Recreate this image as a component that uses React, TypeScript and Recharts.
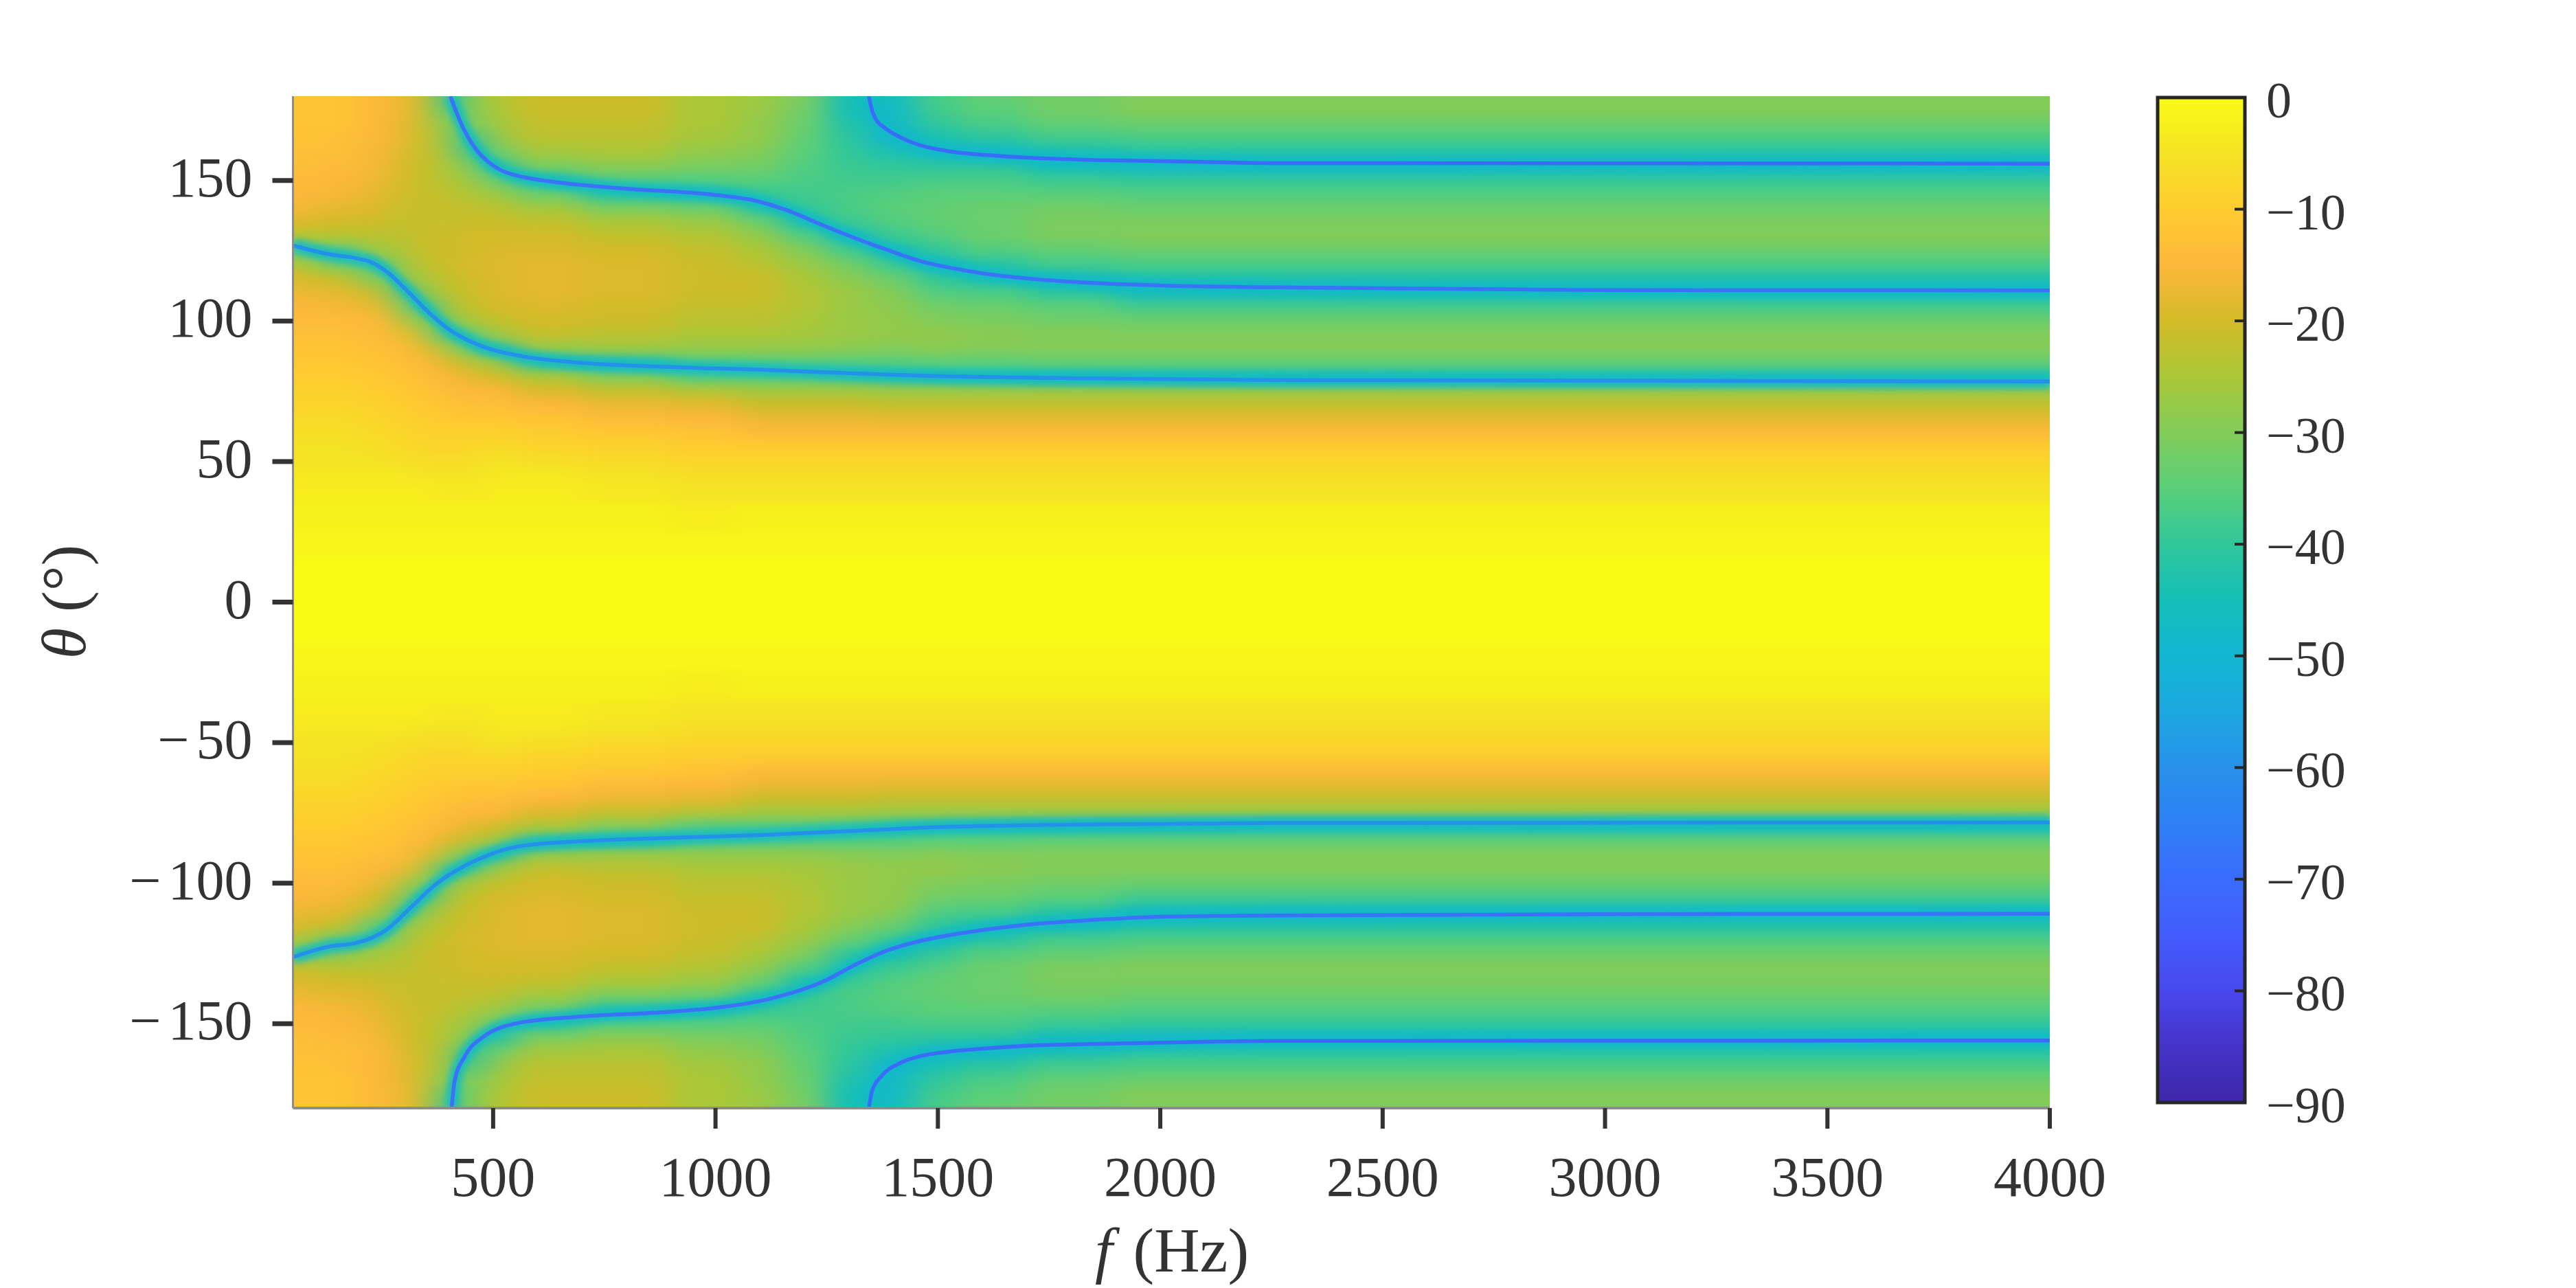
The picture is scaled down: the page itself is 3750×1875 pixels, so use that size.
import React from 'react';
import { LineChart, Line, XAxis, YAxis, ReferenceArea } from 'recharts';

// ---- field: level in dB, one list per frequency, rows follow thetaRows
const thetaRows = [
  180, 175, 170, 165, 160, 155, 150, 145, 140, 135, 130, 125, 120, 115, 110, 105, 100, 95, 90, 85, 80, 75, 70, 65, 60, 55, 50, 45, 40, 30, 20, 10, 0,
  -10, -20, -30, -40, -45, -50, -55, -60, -65, -70, -75, -80, -85, -90, -95, -100, -105, -110, -115, -120, -125, -130, -135, -140, -145, -150, -155, -160, -165, -170, -175, -180,
];
const freqColumns = [50, 150, 250, 300, 350, 400, 450, 500, 600, 800, 1000, 1100, 1200, 1300, 1400, 1500, 1600, 1800, 2000, 4000];

const db50 = [-12,-12,-12,-12,-13,-13,-14,-15,-16,-19,-24,-34,-24,-19,-17,-15,-14,-13,-12,-11,-10,-9,-8,-7,-6,-5,-5,-4,-3,-2,-1,0,0,
  0,-1,-2,-3,-4,-5,-5,-6,-7,-8,-9,-10,-11,-12,-13,-14,-15,-17,-19,-24,-34,-22,-19,-17,-15,-14,-13,-13,-12,-12,-12,-12];
const db150 = [-12,-12,-12,-13,-13,-14,-15,-16,-18,-20,-24,-34,-32,-22,-18,-16,-14,-13,-12,-11,-10,-9,-8,-7,-6,-5,-5,-4,-3,-2,-1,0,0,
  0,-1,-2,-3,-4,-5,-5,-6,-7,-8,-9,-10,-11,-12,-13,-14,-16,-18,-22,-32,-30,-24,-20,-18,-16,-15,-14,-13,-13,-12,-12,-12];
const db250 = [-15,-15,-15,-15,-16,-16,-17,-18,-19,-21,-23,-27,-36,-32,-22,-18,-15,-14,-13,-12,-11,-10,-9,-8,-7,-6,-5,-4,-3,-2,-1,0,0,
  0,-1,-2,-3,-4,-5,-6,-7,-8,-9,-10,-11,-12,-13,-15,-17,-20,-24,-36,-34,-26,-23,-21,-19,-18,-17,-16,-15,-15,-15,-15,-15];
const db300 = [-17,-17,-18,-18,-19,-20,-20,-21,-22,-22,-23,-24,-26,-30,-40,-30,-24,-17,-14,-13,-12,-11,-10,-9,-8,-7,-6,-4,-3,-2,-1,0,0,
  0,-1,-2,-3,-4,-6,-7,-8,-9,-10,-11,-12,-13,-14,-17,-24,-30,-40,-30,-26,-24,-23,-22,-22,-21,-20,-20,-19,-18,-18,-17,-17];
const db350 = [-22,-22,-22,-22,-22,-22,-22,-21,-21,-21,-21,-21,-22,-24,-28,-42,-32,-24,-18,-15,-14,-12,-11,-10,-9,-8,-6,-5,-3,-2,-1,0,0,
  0,-1,-2,-3,-5,-6,-8,-9,-10,-11,-12,-14,-15,-18,-24,-32,-42,-28,-24,-22,-21,-21,-21,-21,-21,-22,-22,-22,-22,-22,-22,-22];
const db400 = [-42,-38,-31,-28,-26,-25,-24,-23,-22,-22,-21,-21,-21,-22,-23,-25,-32,-40,-26,-19,-15,-14,-12,-11,-9,-8,-7,-5,-4,-2,-1,0,0,
  0,-1,-2,-4,-5,-7,-8,-9,-11,-12,-14,-15,-19,-26,-40,-32,-25,-23,-22,-21,-21,-21,-22,-22,-23,-24,-25,-26,-28,-31,-38,-42];
const db450 = [-30,-31,-33,-42,-42,-31,-27,-24,-22,-21,-20,-20,-19,-20,-21,-22,-25,-35,-35,-23,-18,-15,-13,-11,-9,-8,-6,-5,-4,-2,-1,0,0,
  0,-1,-2,-4,-5,-6,-8,-9,-11,-13,-15,-18,-23,-33,-38,-25,-22,-21,-20,-19,-20,-20,-21,-22,-24,-27,-31,-42,-40,-33,-31,-30];
const db500 = [-24,-25,-26,-28,-33,-42,-34,-27,-23,-21,-20,-19,-19,-19,-19,-20,-22,-27,-40,-27,-20,-15,-13,-11,-9,-7,-5,-4,-3,-2,-1,0,0,
  0,-1,-2,-3,-4,-5,-7,-9,-11,-13,-15,-20,-27,-42,-27,-22,-20,-19,-19,-19,-19,-20,-21,-23,-27,-34,-44,-33,-28,-26,-25,-24];
const db600 = [-21,-21,-22,-23,-26,-31,-42,-33,-26,-22,-20,-19,-18,-18,-18,-19,-20,-22,-28,-40,-25,-19,-15,-12,-10,-8,-6,-4,-3,-2,-1,0,0,
  0,-1,-2,-3,-4,-6,-8,-10,-12,-15,-19,-25,-40,-28,-22,-20,-19,-18,-18,-18,-19,-20,-22,-26,-33,-42,-31,-26,-23,-22,-21,-21];
const db800 = [-21,-21,-22,-23,-25,-29,-36,-42,-31,-25,-22,-20,-19,-19,-19,-20,-21,-23,-27,-42,-30,-22,-17,-14,-11,-9,-7,-5,-4,-2,-1,0,0,
  0,-1,-2,-4,-5,-7,-9,-11,-14,-17,-22,-30,-42,-27,-23,-21,-20,-19,-19,-19,-20,-22,-25,-31,-42,-36,-29,-25,-23,-22,-21,-21];
const db1000 = [-25,-25,-25,-26,-28,-31,-36,-44,-33,-27,-24,-22,-21,-21,-21,-22,-23,-25,-28,-36,-36,-24,-18,-15,-12,-10,-8,-6,-5,-3,-1,0,0,
  0,-1,-3,-5,-6,-8,-10,-12,-15,-18,-24,-36,-36,-28,-25,-23,-22,-21,-21,-21,-22,-24,-27,-33,-44,-36,-31,-28,-26,-25,-25,-25];
const db1100 = [-27,-27,-28,-28,-30,-32,-35,-40,-42,-33,-28,-25,-23,-21,-21,-22,-23,-25,-28,-36,-36,-26,-21,-17,-14,-10,-8,-6,-5,-2,-1,0,0,
  0,-1,-2,-5,-6,-8,-10,-14,-17,-21,-26,-36,-36,-28,-25,-23,-22,-21,-21,-23,-25,-28,-33,-42,-40,-35,-32,-30,-28,-28,-27,-27];
const db1200 = [-31,-32,-33,-34,-35,-36,-37,-38,-40,-44,-36,-30,-27,-25,-24,-24,-25,-26,-28,-36,-36,-26,-21,-17,-14,-10,-8,-6,-5,-2,-1,0,0,
  0,-1,-2,-5,-6,-8,-10,-14,-17,-21,-26,-36,-36,-28,-26,-25,-24,-24,-25,-27,-30,-36,-44,-40,-38,-37,-36,-35,-34,-33,-32,-31];
const db1300 = [-45,-45,-43,-41,-40,-39,-38,-37,-37,-39,-46,-38,-32,-29,-27,-27,-27,-27,-29,-36,-38,-26,-21,-17,-14,-10,-8,-6,-5,-2,-1,0,0,
  0,-1,-2,-5,-6,-8,-10,-14,-17,-21,-26,-38,-36,-29,-27,-27,-27,-27,-29,-33,-40,-44,-39,-37,-37,-38,-39,-40,-41,-43,-45,-45];
const db1400 = [-46,-48,-48,-50,-44,-40,-38,-36,-35,-36,-39,-46,-39,-33,-30,-29,-28,-28,-30,-36,-40,-27,-22,-18,-14,-10,-8,-6,-5,-2,-1,0,0,
  0,-1,-2,-5,-6,-8,-10,-14,-18,-22,-27,-40,-36,-30,-28,-28,-28,-29,-33,-39,-46,-39,-36,-35,-36,-38,-40,-44,-50,-48,-48,-46];
const db1500 = [-37,-38,-40,-44,-48,-41,-37,-35,-34,-34,-36,-40,-47,-40,-36,-32,-30,-28,-29,-35,-42,-27,-22,-18,-14,-10,-8,-6,-5,-2,-1,0,0,
  0,-1,-2,-5,-6,-8,-10,-14,-18,-22,-27,-42,-35,-29,-28,-30,-32,-36,-40,-47,-40,-36,-34,-34,-35,-37,-41,-48,-44,-40,-38,-37];
const db1600 = [-34,-35,-37,-41,-48,-41,-37,-35,-33,-33,-33,-36,-42,-44,-37,-33,-31,-29,-30,-35,-43,-27,-22,-18,-14,-10,-8,-6,-5,-2,-1,0,0,
  0,-1,-2,-5,-6,-8,-10,-14,-18,-22,-27,-43,-35,-30,-29,-31,-33,-37,-44,-42,-36,-33,-33,-33,-35,-37,-41,-48,-41,-37,-35,-34];
const db1800 = [-32,-32,-34,-38,-44,-46,-39,-35,-32,-31,-31,-34,-38,-46,-41,-35,-32,-30,-30,-34,-45,-27,-22,-18,-14,-10,-8,-6,-5,-2,-1,0,0,
  0,-1,-2,-5,-6,-8,-10,-14,-18,-22,-27,-45,-34,-30,-30,-32,-35,-41,-46,-38,-34,-31,-31,-32,-35,-39,-46,-44,-38,-34,-32,-32];
const db2000 = [-30,-30,-33,-37,-42,-48,-40,-36,-33,-31,-30,-33,-37,-43,-46,-38,-33,-30,-30,-34,-45,-27,-22,-18,-14,-10,-8,-6,-5,-2,-1,0,0,
  0,-1,-2,-5,-6,-8,-10,-14,-18,-22,-27,-45,-34,-30,-30,-33,-38,-46,-43,-37,-33,-30,-31,-33,-36,-40,-48,-42,-37,-33,-30,-30];
const db4000 = [-30,-30,-33,-37,-42,-48,-40,-36,-33,-31,-30,-33,-37,-43,-46,-38,-33,-30,-30,-34,-45,-27,-22,-18,-14,-10,-8,-6,-5,-2,-1,0,0,
  0,-1,-2,-5,-6,-8,-10,-14,-18,-22,-27,-45,-34,-30,-30,-33,-38,-46,-43,-37,-33,-30,-31,-33,-36,-40,-48,-42,-37,-33,-30,-30];

const fieldColumns = [db50, db150, db250, db300, db350, db400, db450, db500, db600, db800, db1000, db1100, db1200, db1300, db1400, db1500, db1600, db1800, db2000, db4000];

// ---- the nulls, traced by eye: frequency and angle lists
const nullA1F = [50, 130, 190, 228, 265, 302, 351, 401, 475, 561, 684, 869, 1115, 1322, 1459, 1828, 2250, 4000];
const nullA1T = [126.9, 123.8, 122.4, 120.8, 117, 111.5, 103.7, 97, 91, 87.6, 85.3, 83.8, 82.6, 81.3, 80.6, 79.6, 79, 78.5];
const nullB1F = [404, 426, 462, 490, 517, 560, 622, 807, 992, 1090, 1164, 1238, 1312, 1385, 1459, 1533, 1607, 1718, 1828, 2013, 2250, 3000, 4000];
const nullB1T = [180, 171, 161, 156.5, 153.7, 151.5, 149.8, 147, 145, 142.8, 139.2, 134.3, 129.6, 125.4, 121.4, 118.8, 116.8, 114.9, 113.7, 112.6, 112, 111, 110.9];
const nullC1F = [1345, 1350, 1360, 1380, 1400, 1430, 1459, 1533, 1607, 1718, 1828, 2050, 2250, 4000];
const nullC1T = [180, 176, 172, 168.8, 166.7, 164.3, 162.6, 160.2, 159.1, 158, 157.4, 156.8, 156.2, 156];
const nullA2F = [50, 130, 190, 228, 265, 302, 376, 475, 561, 684, 869, 1115, 1322, 1459, 1828, 2250, 4000];
const nullA2T = [-126.3, -122.6, -121.3, -119.4, -116, -110.6, -99.8, -90.9, -86.8, -85.2, -84, -82.8, -81.3, -80.3, -79.1, -78.6, -78.4];
const nullB2F = [407, 413, 438, 475, 561, 684, 869, 992, 1115, 1238, 1322, 1385, 1459, 1533, 1607, 1718, 1828, 2013, 2250, 3000, 4000];
const nullB2T = [-180, -170.7, -161.2, -155, -149.6, -147.6, -146, -144.5, -141.4, -135.3, -128.4, -124, -120.6, -118.3, -116.5, -114.5, -113.3, -111.9, -111.5, -111, -110.9];
const nullC2F = [1345, 1352, 1373, 1415, 1459, 1533, 1607, 1718, 1828, 2050, 2250, 4000];
const nullC2T = [-180, -173.9, -168.7, -164, -161.6, -159.8, -158.8, -157.7, -157.3, -156.6, -156.1, -156];

const zip = (fs: number[], ts: number[]) => fs.map((f, i) => ({ f, t: ts[i] }));
const nullLines = [
  { key: 'a1', data: zip(nullA1F, nullA1T), color: '#2490EA' },
  { key: 'b1', data: zip(nullB1F, nullB1T), color: '#3A72F8' },
  { key: 'c1', data: zip(nullC1F, nullC1T), color: '#3A6CFA' },
  { key: 'a2', data: zip(nullA2F, nullA2T), color: '#2490EA' },
  { key: 'b2', data: zip(nullB2F, nullB2T), color: '#3A72F8' },
  { key: 'c2', data: zip(nullC2F, nullC2T), color: '#3A6CFA' },
];

const xTicks = [500, 1000, 1500, 2000, 2500, 3000, 3500, 4000];
const yTicks = [150, 100, 50, 0, -50, -100, -150];
const cbarTicks = [0, -10, -20, -30, -40, -50, -60, -70, -80, -90];

// colour bar as it reads in the picture
const cmapDb = [0, -5, -10, -15, -20, -25, -30, -35, -40, -45, -50, -55, -60, -65, -70, -75, -80, -85, -90];
const cmapHex = ['#F9FB15', '#F5E324', '#FECC2F', '#FDB73C', '#D3BB27', '#ABC737', '#82CC59', '#5ACF79', '#30C79A', '#14BFB8', '#12B6D2', '#1CA8E0', '#2891EA', '#2E80F5', '#3A6CFD', '#425CFB', '#4848EE', '#4433C8', '#3E26A8'];

const W = 3750;
const H = 1875;
const plot = { left: 426.5, right: 2984, top: 140, bottom: 1613 };
const plotW = plot.right - plot.left;
const plotH = plot.bottom - plot.top;
const SERIF = '"Liberation Serif", serif';
const INK = '#333333';

const hexRgb = (h: string) => [1, 3, 5].map(i => parseInt(h.slice(i, i + 2), 16));
const colorFor = (db: number) => {
  const v = Math.max(-90, Math.min(0, db));
  const i = Math.min(cmapDb.length - 2, Math.floor(-v / 5));
  const u = (cmapDb[i] - v) / 5;
  const a = hexRgb(cmapHex[i]);
  const b = hexRgb(cmapHex[i + 1]);
  return `rgb(${a.map((c, k) => Math.round(c + (b[k] - c) * u)).join(',')})`;
};

// cell edges sit halfway between rows and columns, the outer ones run past the plot for the blur
const edges = (vals: number[], lo: number, hi: number) =>
  vals.map((v, i) => [
    i === 0 ? lo : (vals[i - 1] + v) / 2,
    i === vals.length - 1 ? hi : (vals[i + 1] + v) / 2,
  ]);
const colEdges = edges(freqColumns, -150, 4250);
const rowEdges = edges(thetaRows, 215, -215);

const cells = fieldColumns.flatMap((col, c) =>
  col.map((db, r) => ({
    key: `${c}-${r}`,
    x1: colEdges[c][0],
    x2: colEdges[c][1],
    y1: rowEdges[r][1],
    y2: rowEdges[r][0],
    fill: colorFor(db),
  })),
);

const PlotLayer = ({ pad, filter, children }: { pad: number; filter: string; children: React.ReactNode }) => (
  <div style={{ position: 'absolute', left: plot.left, top: plot.top, width: plotW, height: plotH, overflow: 'hidden' }}>
    <div style={{ position: 'absolute', left: -pad, top: -pad, filter }}>
      <LineChart width={plotW + 2 * pad} height={plotH + 2 * pad} margin={{ left: pad, right: pad, top: pad, bottom: pad }}>
        <XAxis hide type="number" dataKey="f" domain={[50, 4000]} allowDataOverflow />
        <YAxis hide type="number" domain={[-180, 180]} allowDataOverflow />
        {children}
      </LineChart>
    </div>
  </div>
);

const XTick = ({ x, y, payload }: any) => (
  <text x={x} y={y + 98} textAnchor="middle" fontFamily={SERIF} fontSize={82} fill={INK}>{payload.value}</text>
);
const YTick = ({ x, y, payload }: any) => (
  <text x={x - 29} y={y + 23} textAnchor="end" fontFamily={SERIF} fontSize={82} fill={INK}>
    {payload.value < 0 ? <tspan>{'\u2212'}</tspan> : null}
    <tspan dx={payload.value < 0 ? 10 : 0}>{Math.abs(payload.value)}</tspan>
  </text>
);
const CbarTick = ({ x, y, payload }: any) => (
  <g>
    {payload.value !== 0 && payload.value !== -90 && (
      <line x1={x - 15} x2={x} y1={y} y2={y} stroke="#262626" strokeWidth={4} />
    )}
    <text x={x + 31} y={y + 29} textAnchor="start" fontFamily={SERIF} fontSize={74} fill={INK}>
      {String(payload.value).replace('-', '\u2212')}
    </text>
  </g>
);

const App = () => (
  <div style={{ position: 'absolute', left: 0, top: 0, width: W, height: H, background: '#fff', overflow: 'hidden' }}>
    <svg width={0} height={0} style={{ position: 'absolute' }}>
      <filter id="heatBlur" x="0" y="0" width="100%" height="100%" colorInterpolationFilters="sRGB">
        <feGaussianBlur stdDeviation="22 8" />
      </filter>
    </svg>

    {/* soft field */}
    <PlotLayer pad={80} filter="url(#heatBlur)">
      {cells.map(c => (
        <ReferenceArea key={c.key} x1={c.x1} x2={c.x2} y1={c.y1} y2={c.y2} fill={c.fill} fillOpacity={1} stroke={c.fill} strokeWidth={1} ifOverflow="visible" />
      ))}
    </PlotLayer>

    {/* cyan glow along the nulls */}
    <PlotLayer pad={40} filter="blur(5px)">
      {nullLines.map(l => (
        <Line key={l.key} data={l.data} dataKey="t" type="monotone" stroke="#12BAC8" strokeWidth={20} strokeOpacity={0.85} dot={false} activeDot={false} isAnimationActive={false} />
      ))}
    </PlotLayer>

    {/* axes and line cores */}
    <div style={{ position: 'absolute', left: 0, top: 0 }}>
      <LineChart width={W} height={H} margin={{ left: 0, right: W - plot.right, top: plot.top, bottom: 0 }}>
        <XAxis
          type="number"
          dataKey="f"
          domain={[50, 4000]}
          allowDataOverflow
          ticks={xTicks}
          interval={0}
          height={H - plot.bottom}
          tick={<XTick />}
          tickSize={30}
          tickMargin={0}
          tickLine={{ stroke: INK, strokeWidth: 6 }}
          axisLine={{ stroke: '#8c8c8c', strokeWidth: 4 }}
        />
        <YAxis
          type="number"
          domain={[-180, 180]}
          allowDataOverflow
          ticks={yTicks}
          interval={0}
          width={plot.left}
          tick={<YTick />}
          tickSize={30}
          tickMargin={0}
          tickLine={{ stroke: INK, strokeWidth: 7 }}
          axisLine={{ stroke: '#8c8c8c', strokeWidth: 3 }}
        />
        {nullLines.map(l => (
          <Line key={l.key} data={l.data} dataKey="t" type="monotone" stroke={l.color} strokeWidth={5.5} dot={false} activeDot={false} isAnimationActive={false} />
        ))}
        <text x={1706} y={1851} textAnchor="middle" fontFamily={SERIF} fontSize={92} fill={INK}>
          <tspan fontStyle="italic">f</tspan>
          <tspan dx={30}>(Hz)</tspan>
        </text>
        <text transform="translate(124,876) rotate(-90)" textAnchor="middle" fontFamily={SERIF} fontSize={92} fill={INK}>
          <tspan fontStyle="italic">θ</tspan> (°)
        </text>
      </LineChart>
    </div>

    {/* colour bar */}
    <div style={{ position: 'absolute', left: 0, top: 0 }}>
      <LineChart width={W} height={H} margin={{ left: 3141, right: 0, top: 142, bottom: H - 1605 }}>
        <defs>
          <linearGradient id="cbarFill" x1="0" y1="0" x2="0" y2="1">
            {cmapDb.map((db, i) => (
              <stop key={db} offset={-db / 90} stopColor={cmapHex[i]} />
            ))}
          </linearGradient>
        </defs>
        <XAxis hide type="number" dataKey="u" domain={[0, 1]} allowDataOverflow />
        <YAxis
          orientation="right"
          type="number"
          domain={[-90, 0]}
          allowDataOverflow
          ticks={cbarTicks}
          interval={0}
          width={W - 3268}
          tick={<CbarTick />}
          tickSize={0}
          tickMargin={0}
          tickLine={false}
          axisLine={false}
        />
        <ReferenceArea x1={0} x2={1} y1={-90} y2={0} fill="url(#cbarFill)" fillOpacity={1} stroke="#262626" strokeWidth={5} ifOverflow="visible" />
      </LineChart>
    </div>
  </div>
);

export default App;
